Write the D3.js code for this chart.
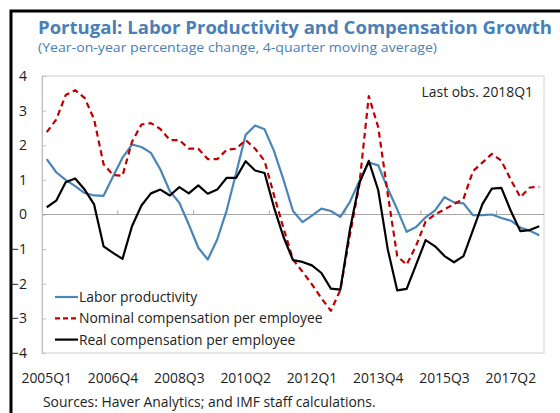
<!DOCTYPE html>
<meta charset="utf-8">
<head>
<title>Portugal: Labor Productivity and Compensation Growth</title>
</head>
<style>
body { margin: 0; background: #fff; }
text { font-family: "Open Sans", "Noto Sans", sans-serif; }
</style>
<body>
<svg width="560" height="413"></svg>
<script src="https://d3js.org/d3.v7.min.js"></script>
<script>

// quarters 2005Q1 .. 2018Q1
var quarters = [];
for (var yr = 2005; yr <= 2018; yr++) {
  for (var q = 1; q <= 4; q++) {
    if (yr == 2018 && q > 1) break;
    quarters.push(yr + 'Q' + q);
  }
}

var labor = [1.6,1.22,1.0,0.82,0.62,0.55,0.54,1.1,1.64,2.02,1.95,1.78,1.3,0.67,0.34,-0.29,-0.96,-1.3,-0.72,0.12,
  1.2,2.3,2.57,2.46,1.83,1.0,0.1,-0.22,-0.03,0.17,0.1,-0.07,0.36,0.96,1.5,1.42,0.75,0.15,-0.5,-0.36,
  -0.08,0.12,0.5,0.35,0.32,-0.02,-0.02,0.0,-0.1,-0.18,-0.38,-0.47,-0.6];

var nominal = [2.38,2.74,3.45,3.59,3.37,2.75,1.45,1.14,1.12,2.1,2.6,2.64,2.47,2.15,2.15,1.9,1.9,1.6,1.6,1.87,
  1.9,2.15,1.9,1.55,0.55,-0.4,-1.3,-1.65,-2.02,-2.42,-2.78,-2.18,-0.6,0.85,3.42,2.52,0.6,-1.2,-1.45,-0.9,
  -0.2,0.0,0.15,0.3,0.45,1.25,1.5,1.75,1.55,1.0,0.5,0.78,0.8];

var real = [0.21,0.4,0.93,1.04,0.72,0.29,-0.92,-1.11,-1.28,-0.34,0.26,0.61,0.72,0.55,0.79,0.61,0.84,0.6,0.72,1.06,
  1.06,1.54,1.27,1.2,0.2,-0.65,-1.32,-1.37,-1.47,-1.69,-2.14,-2.17,-0.45,0.9,1.55,0.7,-1.0,-2.19,-2.15,-1.45,
  -0.74,-0.92,-1.2,-1.38,-1.2,-0.45,0.3,0.75,0.77,0.1,-0.48,-0.45,-0.34];

var yTicks = [-4,-3,-2,-1,0,1,2,3,4];
var xLabels = ['2005Q1','2006Q4','2008Q3','2010Q2','2012Q1','2013Q4','2015Q3','2017Q2'];

var seriesNames = ['Labor productivity','Nominal compensation per employee','Real compensation per employee'];
var seriesColors = ['#4a85b8','#c00000','#000000'];
var seriesDash = [null,'6,4',null];

var svg = d3.select('svg');

// outer frame (only top/left visible)
svg.append('rect')
  .attr('x', 11).attr('y', 11)
  .attr('width', 600).attr('height', 450)
  .attr('fill', 'none').attr('stroke', '#000').attr('stroke-width', 3);

// title
svg.append('text')
  .attr('x', 38).attr('y', 34)
  .attr('font-size', 17.5).attr('font-weight', 'bold')
  .attr('fill', '#4a80b6')
  .attr('textLength', 514).attr('lengthAdjust', 'spacingAndGlyphs')
  .text('Portugal: Labor Productivity and Compensation Growth');

svg.append('text')
  .attr('x', 38).attr('y', 52)
  .attr('font-size', 13).attr('fill', '#4a80b6')
  .attr('textLength', 399).attr('lengthAdjust', 'spacingAndGlyphs')
  .text('(Year-on-year percentage change, 4-quarter moving average)');

var pLeft = 42, pRight = 544, pTop = 76, pBottom = 353;

var x = d3.scaleBand().domain(quarters).range([pLeft, pRight]).padding(0);
var y = d3.scaleLinear().domain([-4, 4]).range([pBottom, pTop]);
var bw = x.bandwidth();
function cx(i) { return x(quarters[i]) + bw / 2; }

// plot frame
svg.append('rect')
  .attr('x', pLeft).attr('y', pTop)
  .attr('width', pRight - pLeft).attr('height', pBottom - pTop)
  .attr('fill', 'none').attr('stroke', '#d0d0d0').attr('stroke-width', 1);

// y axis
var yAxis = svg.append('g')
  .attr('transform', 'translate(' + pLeft + ',0)')
  .call(d3.axisLeft(y).tickValues(yTicks).tickSizeInner(-4).tickSizeOuter(0).tickPadding(15));
yAxis.select('.domain').attr('stroke', '#bfbfbf');
yAxis.selectAll('line').attr('stroke', '#bfbfbf');
yAxis.selectAll('text').attr('font-size', 14).attr('fill', '#222')
  .attr('font-family', '"Open Sans", sans-serif');

// zero line with tick marks every 8 quarters
svg.append('line')
  .attr('x1', pLeft).attr('x2', pRight)
  .attr('y1', y(0)).attr('y2', y(0))
  .attr('stroke', '#a6a6a6').attr('stroke-width', 1);

var tickIdx = [8,16,24,32,40,48];
svg.selectAll('.xtick').data(tickIdx).enter().append('line')
  .attr('class', 'xtick')
  .attr('x1', function(d) { return x(quarters[d]); })
  .attr('x2', function(d) { return x(quarters[d]); })
  .attr('y1', y(0)).attr('y2', y(0) - 4)
  .attr('stroke', '#a6a6a6');

// x labels
var xAxis = svg.append('g')
  .attr('transform', 'translate(0,' + pBottom + ')')
  .call(d3.axisBottom(x).tickValues(xLabels).tickSize(0).tickPadding(20));
xAxis.select('.domain').remove();
xAxis.selectAll('text').attr('font-size', 13.9).attr('fill', '#222')
  .attr('font-family', '"Open Sans", sans-serif');

// lines
var allSeries = [labor, nominal, real];
var line = d3.line()
  .x(function(d, i) { return cx(i); })
  .y(function(d) { return y(d); });

allSeries.forEach(function(s, k) {
  svg.append('path')
    .datum(s)
    .attr('d', line)
    .attr('fill', 'none')
    .attr('stroke', seriesColors[k])
    .attr('stroke-width', 2.2)
    .attr('stroke-dasharray', seriesDash[k])
    .attr('stroke-linejoin', 'round');
});

// legend
var leg = svg.selectAll('.leg').data(seriesNames).enter().append('g')
  .attr('class', 'leg')
  .attr('transform', function(d, i) { return 'translate(55,' + (297 + i * 21.3) + ')'; });
leg.append('line')
  .attr('x1', 0).attr('x2', 23).attr('y1', 0).attr('y2', 0)
  .attr('stroke', function(d, i) { return seriesColors[i]; })
  .attr('stroke-width', 2.2)
  .attr('stroke-dasharray', function(d, i) { return i == 1 ? '5,3' : null; });
leg.append('text')
  .attr('x', 24).attr('y', 5)
  .attr('font-size', 13.9).attr('fill', '#222')
  .text(function(d) { return d; });

// note
svg.append('text')
  .attr('x', 533).attr('y', 97)
  .attr('text-anchor', 'end')
  .attr('font-size', 13.9).attr('fill', '#222')
  .text('Last obs. 2018Q1');

// source
svg.append('text')
  .attr('x', 43).attr('y', 407)
  .attr('font-size', 13.9).attr('fill', '#222')
  .text('Sources: Haver Analytics; and IMF staff calculations.');

</script>
</body>
</html>
